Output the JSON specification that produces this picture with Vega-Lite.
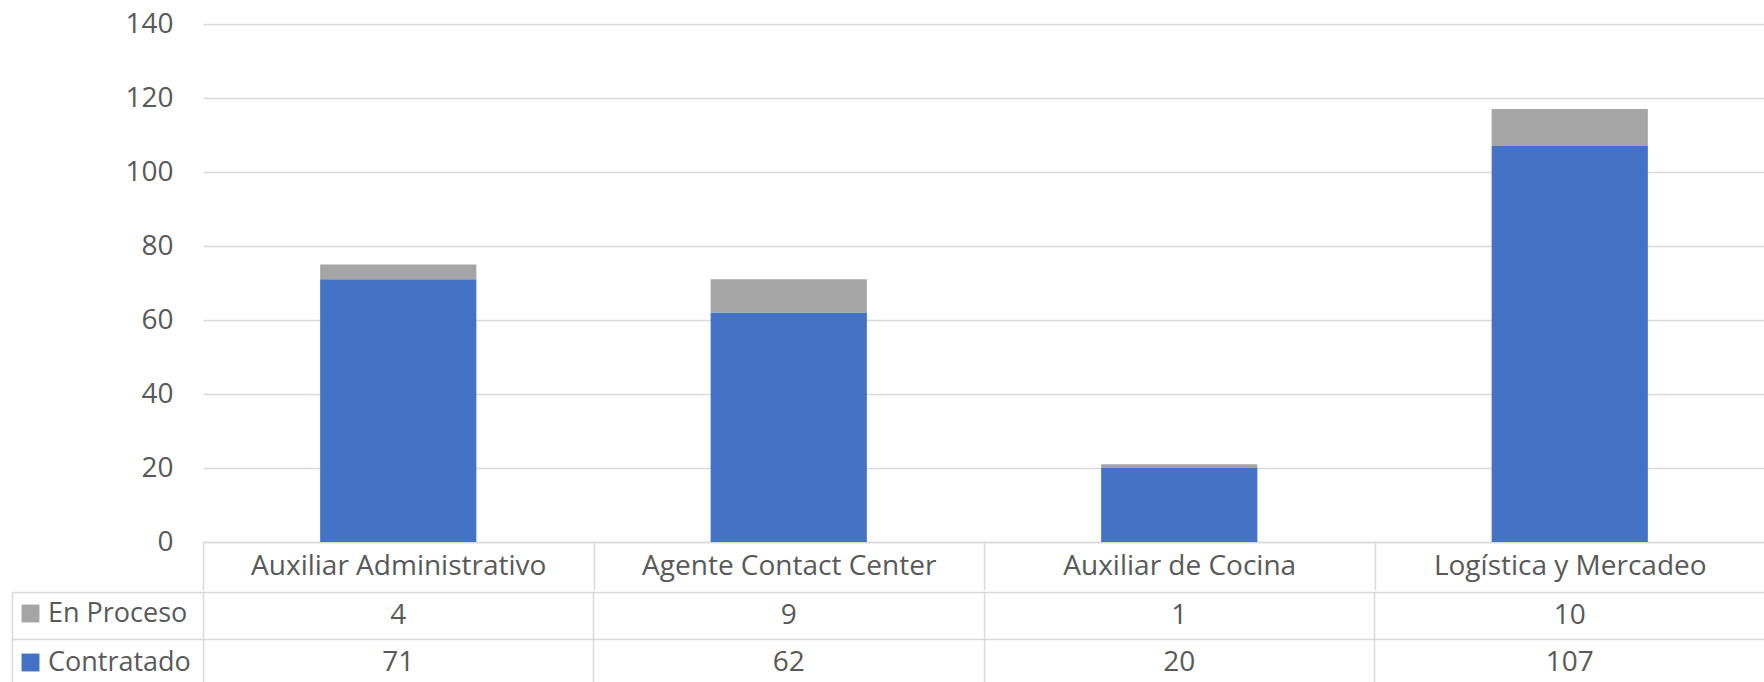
{
  "$schema": "https://vega.github.io/schema/vega-lite/v6.json",
  "padding": {"left": 11, "top": 10, "right": 0, "bottom": 0},
  "autosize": {"type": "pad"},
  "config": {"view": {"stroke": null}, "font": "Open Sans", "concat": {"spacing": 0}},
  "data": {"values": [
    {"cat": "Auxiliar Administrativo", "series": "Contratado", "value": 71},
    {"cat": "Auxiliar Administrativo", "series": "En Proceso", "value": 4},
    {"cat": "Agente Contact Center", "series": "Contratado", "value": 62},
    {"cat": "Agente Contact Center", "series": "En Proceso", "value": 9},
    {"cat": "Auxiliar de Cocina", "series": "Contratado", "value": 20},
    {"cat": "Auxiliar de Cocina", "series": "En Proceso", "value": 1},
    {"cat": "Logística y Mercadeo", "series": "Contratado", "value": 107},
    {"cat": "Logística y Mercadeo", "series": "En Proceso", "value": 10}
  ]},
  "spacing": 0,
  "resolve": {"scale": {"x": "independent", "y": "independent"}},
  "vconcat": [
    {
      "width": 1562,
      "height": 518,
      "mark": {"type": "bar", "width": {"band": 0.4}},
      "encoding": {
        "x": {
          "field": "cat", "type": "nominal",
          "sort": ["Auxiliar Administrativo", "Agente Contact Center", "Auxiliar de Cocina", "Logística y Mercadeo"],
          "scale": {"padding": 0},
          "axis": {"title": null, "labelAngle": 0, "labelFontSize": 28, "labelColor": "#595959", "labelLimit": 0,
                   "domainColor": "#D9D9D9", "domainWidth": 1.5, "ticks": true, "tickColor": "#D9D9D9", "tickSize": 48,
                   "tickWidth": 1.5, "tickBand": "extent", "labelPadding": -24, "labelBaseline": "middle"}
        },
        "y": {
          "field": "value", "type": "quantitative", "stack": "zero",
          "scale": {"domain": [0, 140]},
          "axis": {"title": null, "values": [0, 20, 40, 60, 80, 100, 120, 140], "grid": true,
                   "gridColor": "#D9D9D9", "gridWidth": 1.3, "domain": false, "ticks": false,
                   "labelPadding": 30, "labelFontSize": 28, "labelColor": "#595959"}
        },
        "color": {
          "field": "series", "type": "nominal",
          "scale": {"domain": ["En Proceso", "Contratado"], "range": ["#A5A5A5", "#4472C4"]},
          "legend": {"orient": "none", "legendX": -186, "legendY": 576, "title": null,
                     "symbolType": "square", "symbolSize": 320, "symbolStrokeWidth": 0,
                     "labelFontSize": 27, "labelColor": "#595959", "rowPadding": 21}
        },
        "order": {"field": "series", "sort": "ascending"}
      }
    },
    {
      "width": 1562,
      "height": 94,
      "mark": {"type": "text", "fontSize": 28, "color": "#595959"},
      "encoding": {
        "x": {
          "field": "cat", "type": "nominal",
          "sort": ["Auxiliar Administrativo", "Agente Contact Center", "Auxiliar de Cocina", "Logística y Mercadeo"],
          "scale": {"type": "band", "padding": 0},
          "axis": {"title": null, "grid": true, "bandPosition": 0, "gridColor": "#D9D9D9", "gridWidth": 1.5,
                   "labels": false, "ticks": false, "domain": false}
        },
        "y": {
          "field": "series", "type": "nominal",
          "scale": {"type": "band", "domain": ["En Proceso", "Contratado"], "padding": 0},
          "axis": {"title": null, "offset": 191, "domainColor": "#D9D9D9", "domainWidth": 1.5,
                   "ticks": true, "tickSize": -191, "tickColor": "#D9D9D9", "tickWidth": 1.5,
                   "bandPosition": 0, "grid": true, "gridColor": "#D9D9D9", "gridWidth": 1.5, "labels": false}
        },
        "text": {"field": "value", "type": "quantitative"}
      }
    }
  ]
}
